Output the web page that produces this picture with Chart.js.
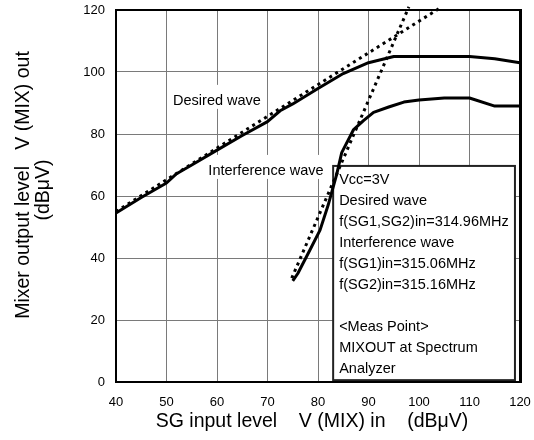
<!DOCTYPE html>
<html>
<head>
<meta charset="utf-8">
<script src="https://cdn.jsdelivr.net/npm/chart.js@4.4.1/dist/chart.umd.min.js"></script>
<style>
  html, body { margin: 0; padding: 0; background: #fff; }
</style>
</head>
<body>
<canvas id="chart" width="534" height="440"></canvas>
<script>
// measured curves (SG input dBuV -> mixer output dBuV)
const desiredX = [40, 45, 50, 52, 55, 60, 65, 70, 72.5, 75, 80, 85, 90, 95, 100, 110, 115, 120];
const desiredY = [54.5, 59.5, 64.2, 67.2, 70, 74.8, 79.5, 84, 87.5, 89.7, 94.7, 99.5, 103, 105, 105, 105, 104.3, 103];
const interfX = [75, 76, 78.4, 80.4, 82, 83.7, 84.7, 87, 89, 91, 94, 97, 100, 105, 110, 115, 120];
const interfY = [32.6, 35, 42.6, 49, 57, 67, 74, 81.3, 84.3, 87, 88.7, 90.3, 91, 91.6, 91.6, 89, 89];

// dotted extrapolations
const desiredExtX = [40, 104.5];
const desiredExtY = [55, 121];
const interfExtX = [74.8, 98];
const interfExtY = [33.5, 121];

const xTicks = [40, 50, 60, 70, 80, 90, 100, 110, 120];
const yTicks = [0, 20, 40, 60, 80, 100, 120];

const labelDesired = 'Desired wave';
const labelInterf = 'Interference wave';
const boxLines = [
  'Vcc=3V',
  'Desired wave',
  'f(SG1,SG2)in=314.96MHz',
  'Interference wave',
  'f(SG1)in=315.06MHz',
  'f(SG2)in=315.16MHz',
  '',
  '<Meas Point>',
  'MIXOUT at Spectrum',
  'Analyzer'
];
const xTitle = 'SG input level    V (MIX) in    (dB\u03bcV)';
const yTitle = ['Mixer output level   V (MIX) out', '(dB\u03bcV)'];

const FONT = '"Liberation Sans", Arial, sans-serif';
const pts = (xs, ys) => xs.map((x, i) => ({ x, y: ys[i] }));

const solid = (data) => ({
  data, borderColor: '#000', borderWidth: 3, pointRadius: 0,
  tension: 0, fill: false, borderJoinStyle: 'round'
});
const dotted = (data) => ({
  data, borderColor: '#000', borderWidth: 3, pointRadius: 0,
  tension: 0, fill: false, borderDash: [3, 4], borderCapStyle: 'butt', clip: false
});

const notes = {
  id: 'notes',
  beforeDatasetsDraw(chart) {
    const { ctx, scales: { x, y } } = chart;
    ctx.save();
    // curve labels, white behind so the grid breaks
    ctx.font = '14.5px ' + FONT;
    ctx.textAlign = 'center';
    ctx.textBaseline = 'alphabetic';
    [[labelDesired, 60, 89.4], [labelInterf, 69.7, 66.8]].forEach(([s, vx, vy]) => {
      const cx = x.getPixelForValue(vx), by = y.getPixelForValue(vy);
      const w = ctx.measureText(s).width;
      ctx.fillStyle = '#fff';
      ctx.fillRect(cx - w / 2 - 3, by - 20, w + 6, 24);
      ctx.fillStyle = '#000';
      ctx.fillText(s, cx, by);
    });
    // condition box
    const l = x.getPixelForValue(83), r = x.getPixelForValue(119);
    const t = y.getPixelForValue(69.7), b = y.getPixelForValue(0.6);
    ctx.fillStyle = '#fff';
    ctx.fillRect(l, t, r - l, b - t);
    ctx.strokeStyle = '#222';
    ctx.lineWidth = 2;
    ctx.strokeRect(l, t, r - l, b - t);
    ctx.fillStyle = '#000';
    ctx.textAlign = 'left';
    boxLines.forEach((s, i) => ctx.fillText(s, l + 6, t + 18 + i * 21));
    ctx.restore();
  },
  afterDatasetsDraw(chart) {
    const { ctx, chartArea: a } = chart;
    ctx.save();
    ctx.strokeStyle = '#000';
    ctx.lineWidth = 2;
    ctx.strokeRect(a.left, a.top, a.right - a.left, a.bottom - a.top);
    ctx.lineWidth = 3;
    ctx.beginPath();
    ctx.moveTo(a.right + 0.5, a.top - 1);
    ctx.lineTo(a.right + 0.5, a.bottom + 1);
    ctx.stroke();
    ctx.restore();
  },
  afterDraw(chart) {
    const { ctx } = chart;
    ctx.save();
    ctx.fillStyle = '#000';
    ctx.font = '19.5px ' + FONT;
    ctx.textAlign = 'center';
    ctx.textBaseline = 'alphabetic';
    ctx.fillText(xTitle, 312, 427);
    ctx.rotate(-Math.PI / 2);
    ctx.fillText(yTitle[0], -185, 29);
    ctx.fillText(yTitle[1], -190, 48.5);
    ctx.restore();
  }
};

const noPad = (s) => { s.paddingLeft = 0; s.paddingRight = 0; s.paddingTop = 0; s.paddingBottom = 0; };

new Chart(document.getElementById('chart'), {
  type: 'line',
  data: {
    datasets: [
      solid(pts(desiredX, desiredY)),
      solid(pts(interfX, interfY)),
      dotted(pts(desiredExtX, desiredExtY)),
      dotted(pts(interfExtX, interfExtY))
    ]
  },
  options: {
    responsive: false,
    devicePixelRatio: 1,
    animation: false,
    events: [],
    layout: { padding: { top: 10, right: 14, left: 0, bottom: 0 } },
    plugins: { legend: { display: false }, tooltip: { enabled: false } },
    scales: {
      x: {
        type: 'linear', min: 40, max: 120,
        afterBuildTicks: (s) => { s.ticks = xTicks.map(v => ({ value: v })); },
        afterFit: (s) => { s.height = 58; noPad(s); },
        grid: { color: '#7a7a7a', lineWidth: 1, drawTicks: false },
        border: { display: false },
        ticks: { color: '#000', font: { family: FONT, size: 13 }, padding: 13, maxRotation: 0 }
      },
      y: {
        type: 'linear', min: 0, max: 120,
        afterBuildTicks: (s) => { s.ticks = yTicks.map(v => ({ value: v })); },
        afterFit: (s) => { s.width = 116; noPad(s); },
        grid: { color: '#7a7a7a', lineWidth: 1, drawTicks: false },
        border: { display: false },
        ticks: { color: '#000', font: { family: FONT, size: 13 }, padding: 11 }
      }
    }
  },
  plugins: [notes]
});
</script>
</body>
</html>
